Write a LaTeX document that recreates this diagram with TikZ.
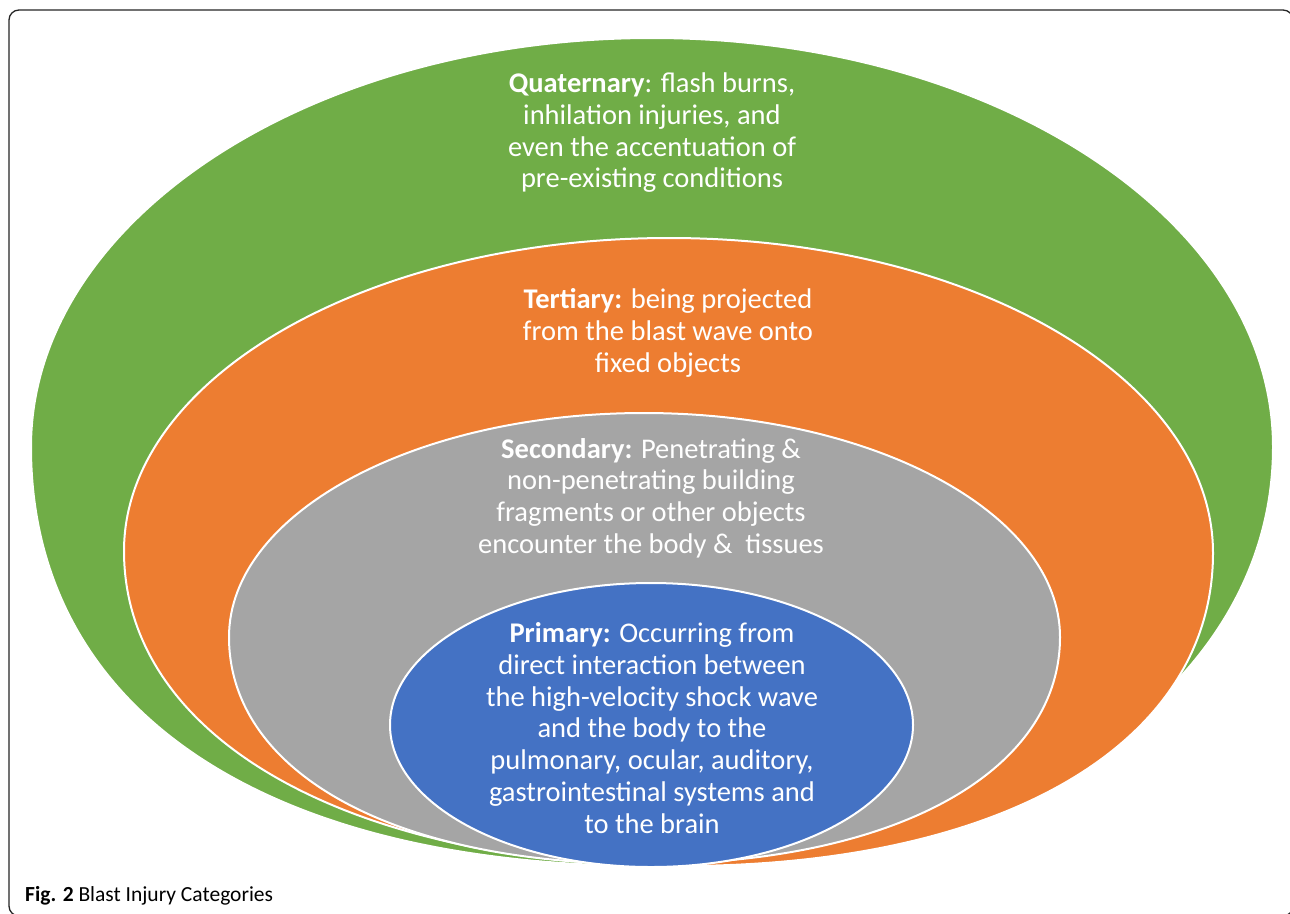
\documentclass[tikz,border=0pt]{standalone}
\usepackage{fontspec}
\setmainfont{Carlito}
\definecolor{qgreen}{HTML}{70AD47}
\definecolor{torange}{HTML}{ED7D31}
\definecolor{sgray}{HTML}{A5A5A5}
\definecolor{pblue}{HTML}{4472C4}
\tikzset{
  ring/.style={draw=white, line width=2pt},
  label/.style={text=white, align=center, font=\fontsize{28.5}{31.7}\selectfont, inner sep=0pt},
}
\begin{document}
\begin{tikzpicture}[x=1pt,y=-1pt]
\useasboundingbox (0,0) rectangle (1290,913);
\fill[white] (0,0) rectangle (1290,913);
\draw[line width=1.3pt, rounded corners=10pt, black!85] (9,10) rectangle (1293,916);
% green (quaternary)
\path[ring, fill=qgreen] (31,447) .. controls (31,221) and (309,38) .. (652,38)
  .. controls (995,38) and (1273,221) .. (1273,447)
  .. controls (1273,688) and (1015,866) .. (652,866)
  .. controls (264,866) and (31,710) .. (31,447) -- cycle;
% orange (tertiary)
\path[ring, fill=torange] (124,551) .. controls (124,378) and (368,238) .. (669,238)
  .. controls (970,238) and (1213,378) .. (1213,553)
  .. controls (1213,743) and (1005,866) .. (680,866)
  .. controls (355,866) and (124,741) .. (124,551) -- cycle;
% gray (secondary)
\path[ring, fill=sgray] (229,637) .. controls (229,513) and (415,413) .. (644,413)
  .. controls (873,413) and (1060,513) .. (1060,637)
  .. controls (1060,773) and (893,864) .. (644,864)
  .. controls (395,864) and (229,773) .. (229,637) -- cycle;
% blue (primary)
\path[ring, fill=pblue] (390,725) .. controls (390,647) and (507,583) .. (651,583)
  .. controls (795,583) and (913,647) .. (913,725)
  .. controls (913,803) and (795,867) .. (651,867)
  .. controls (507,867) and (390,803) .. (390,725) -- cycle;
\node[label] (quat) at (652,133) {\textbf{Quaternary}: flash burns,\\inhilation injuries, and\\even the accentuation of\\pre-existing conditions};
\node[label] (tert) at (668,333) {\textbf{Tertiary:} being projected\\from the blast wave onto\\fixed objects};
\node[label] (sec) at (651,498) {\textbf{Secondary:} Penetrating \&\\non-penetrating building\\fragments or other objects\\encounter the body \&\ \ tissues};
\node[label] (prim) at (652,728) {\textbf{Primary:} Occurring from\\direct interaction between\\the high-velocity shock wave\\and the body to the\\pulmonary, ocular, auditory,\\gastrointestinal systems and\\to the brain};
\node[anchor=base west, inner sep=0pt, font=\fontsize{21.5}{24}\selectfont] (cap) at (25,901) {\textbf{Fig. 2} Blast Injury Categories};
\end{tikzpicture}
\end{document}
